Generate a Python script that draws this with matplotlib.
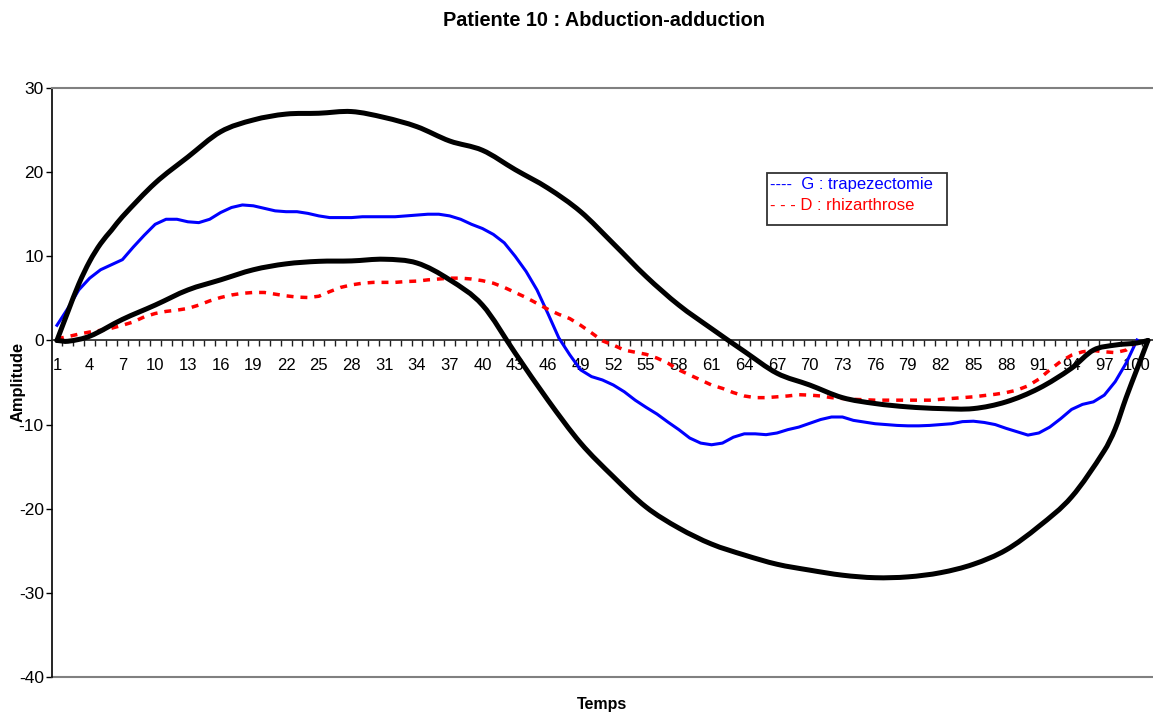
import matplotlib
matplotlib.use("Agg")
import matplotlib.pyplot as plt
from matplotlib.path import Path
from matplotlib.patches import PathPatch
import numpy as np

plt.rcParams["font.family"] = ["Liberation Sans", "DejaVu Sans"]

W, H = 1153, 718

# --- data -----------------------------------------------------------------
temps = list(range(1, 101))

g_trapezectomie = [
    1.8, 3.8, 6.0, 7.4, 8.4, 9.0, 9.6, 11.1, 12.5, 13.8,
    14.4, 14.4, 14.1, 14.0, 14.4, 15.2, 15.8, 16.1, 16.0, 15.7,
    15.4, 15.3, 15.3, 15.1, 14.8, 14.6, 14.6, 14.6, 14.7, 14.7,
    14.7, 14.7, 14.8, 14.9, 15.0, 15.0, 14.8, 14.4, 13.8, 13.3,
    12.6, 11.6, 10.0, 8.2, 6.0, 3.2, 0.3, -1.7, -3.5, -4.3,
    -4.7, -5.3, -6.1, -7.1, -7.95, -8.75, -9.7, -10.6, -11.6, -12.2,
    -12.4, -12.2, -11.5, -11.1, -11.1, -11.2, -11.0, -10.6, -10.3, -9.85,
    -9.4, -9.1, -9.1, -9.5, -9.7, -9.9, -10.0, -10.1, -10.15, -10.15,
    -10.1, -10.0, -9.9, -9.65, -9.6, -9.75, -10.0, -10.45, -10.85, -11.25,
    -11.0, -10.3, -9.3, -8.2, -7.6, -7.3, -6.5, -4.9, -2.7, 0.05,
]

d_rhizarthrose = [
    0.2, 0.45, 0.75, 1.0, 1.2, 1.45, 1.8, 2.2, 2.8, 3.2,
    3.45, 3.6, 3.8, 4.2, 4.7, 5.1, 5.4, 5.6, 5.7, 5.7,
    5.5, 5.3, 5.15, 5.1, 5.25, 5.8, 6.3, 6.6, 6.8, 6.9,
    6.9, 6.9, 7.0, 7.05, 7.2, 7.3, 7.4, 7.4, 7.3, 7.1,
    6.8, 6.3, 5.7, 5.1, 4.4, 3.7, 3.1, 2.6, 1.8, 0.9,
    -0.05, -0.55, -1.15, -1.4, -1.65, -2.1, -2.7, -3.5, -4.1, -4.7,
    -5.3, -5.7, -6.2, -6.6, -6.8, -6.8, -6.7, -6.6, -6.45, -6.5,
    -6.6, -6.8, -6.9, -7.0, -7.05, -7.1, -7.1, -7.1, -7.1, -7.1,
    -7.1, -7.0, -6.9, -6.8, -6.7, -6.55, -6.4, -6.2, -5.9, -5.4,
    -4.6, -3.5, -2.5, -1.75, -1.35, -1.2, -1.35, -1.45, -1.15, -0.15,
]

# normal range envelope (upper / lower), read at selected time points
haut_x = [1, 2, 3, 4, 5, 6, 7, 10, 13, 16, 19, 22, 25, 28, 31, 34, 37, 40, 43, 46,
          49, 52, 55, 58, 61, 64, 67, 70, 73, 76, 79, 82, 85, 88, 91, 94, 96, 98, 100, 101]
haut_y = [0, 3.4, 6.7, 9.4, 11.5, 13.1, 14.7, 18.7, 21.8, 24.8, 26.2, 26.9, 27.0, 27.2,
          26.5, 25.4, 23.7, 22.6, 20.3, 18.1, 15.3, 11.5, 7.6, 4.2, 1.4, -1.3, -3.9,
          -5.3, -6.8, -7.5, -7.9, -8.1, -8.1, -7.3, -5.7, -3.3, -1.15, -0.55, -0.3, 0]

bas_x = [1, 2, 4, 7, 10, 13, 16, 19, 22, 25, 28, 31, 34, 37, 40, 43, 46, 49, 52, 55,
         58, 61, 64, 67, 70, 73, 76, 79, 82, 85, 88, 91, 94, 97, 98, 99, 100, 101]
bas_y = [0, -0.1, 0.5, 2.5, 4.2, 6.0, 7.2, 8.4, 9.1, 9.4, 9.45, 9.65, 9.2, 7.2, 4.2,
         -1.5, -7.1, -12.2, -16.2, -19.8, -22.3, -24.2, -25.5, -26.6, -27.3, -27.9,
         -28.2, -28.1, -27.6, -26.6, -24.9, -22.1, -18.6, -13.1, -10.5, -6.8, -3.4, 0]

y_ticks = [-40, -30, -20, -10, 0, 10, 20, 30]
x_labels = list(range(1, 101, 3))


def smooth_path(xs, ys):
    # Excel-like smoothed line: cubic Hermite segments through the points
    x = np.asarray(xs, float); y = np.asarray(ys, float)
    n = len(x)
    m = np.empty(n)
    m[0] = (y[1] - y[0]) / (x[1] - x[0]); m[-1] = (y[-1] - y[-2]) / (x[-1] - x[-2])
    for i in range(1, n - 1):
        m[i] = (y[i + 1] - y[i - 1]) / (x[i + 1] - x[i - 1])
    verts = [(x[0], y[0])]; codes = [Path.MOVETO]
    for i in range(n - 1):
        dx = x[i + 1] - x[i]
        verts += [(x[i] + dx / 3, y[i] + m[i] * dx / 3),
                  (x[i + 1] - dx / 3, y[i + 1] - m[i + 1] * dx / 3),
                  (x[i + 1], y[i + 1])]
        codes += [Path.CURVE4] * 3
    return Path(verts, codes)


# --- figure ---------------------------------------------------------------
fig = plt.figure(figsize=(W / 100, H / 100), dpi=100)
left, right, top, bottom = 51.5, 1153.4, 88, 677
ax = fig.add_axes([left / W, 1 - bottom / H, (right - left) / W, (bottom - top) / H])

ax.plot(temps, g_trapezectomie, color="#0000ff", lw=2.2, zorder=3)
ax.plot(temps, d_rhizarthrose, color="#ff0000", lw=2.5, dashes=(2, 2), zorder=3)
for xs, ys in [(haut_x, haut_y), (bas_x, bas_y)]:
    ax.add_patch(PathPatch(smooth_path(xs, ys), fill=False, edgecolor="black",
                           lw=3.6, zorder=4, capstyle="round", joinstyle="round"))

ax.set_xlim(0.5, 101.5)
ax.set_ylim(-40, 30)

ax.spines["bottom"].set_position(("data", 0))
ax.spines["bottom"].set_color("#202020")
ax.spines["bottom"].set_linewidth(1.2)
ax.spines["left"].set_color("black")
ax.spines["left"].set_linewidth(1.2)
ax.spines["top"].set_color("#808080")
ax.spines["top"].set_linewidth(1.5)
ax.spines["right"].set_visible(False)
ax.axhline(-40, color="#808080", lw=1.5, clip_on=False)

ax.set_xticks(x_labels)
ax.set_xticklabels([str(v) for v in x_labels], fontsize=12)
ax.set_xticks(np.arange(1.5, 101, 1), minor=True)
ax.tick_params(axis="x", which="major", length=0, pad=12.5)
ax.tick_params(axis="x", which="minor", direction="out", length=4, width=1, color="#202020")

ax.set_yticks(y_ticks)
ax.set_yticklabels([str(v) for v in y_ticks], fontsize=12.5)
ax.tick_params(axis="y", direction="out", length=4, width=1, pad=1.5)

# texts
fig.text(604 / W, 1 - 20 / H, "Patiente 10 : Abduction-adduction",
         ha="center", va="center", fontsize=14.3, fontweight="bold")
fig.text(602 / W, 1 - 705 / H, "Temps", ha="center", va="center",
         fontsize=11.5, fontweight="bold")
fig.text(18.5 / W, 1 - 382 / H, "Amplitude", ha="center", va="center",
         rotation=90, fontsize=11.8, fontweight="bold")

# legend box (text box style)
bx0, by0, bx1, by1 = 767, 173, 947, 225
fig.patches.append(plt.Rectangle((bx0 / W, 1 - by1 / H), (bx1 - bx0) / W, (by1 - by0) / H,
                                 transform=fig.transFigure, fill=True, facecolor="white",
                                 edgecolor="#333333", lw=1.3, zorder=5))
fig.text(770 / W, 1 - 185 / H, "----  G : trapezectomie", color="#0000ff",
         ha="left", va="center", fontsize=12, zorder=6)
fig.text(770 / W, 1 - 205 / H, "- - - D : rhizarthrose", color="#ff0000",
         ha="left", va="center", fontsize=12, zorder=6)

fig.savefig("out.png", dpi=100)
